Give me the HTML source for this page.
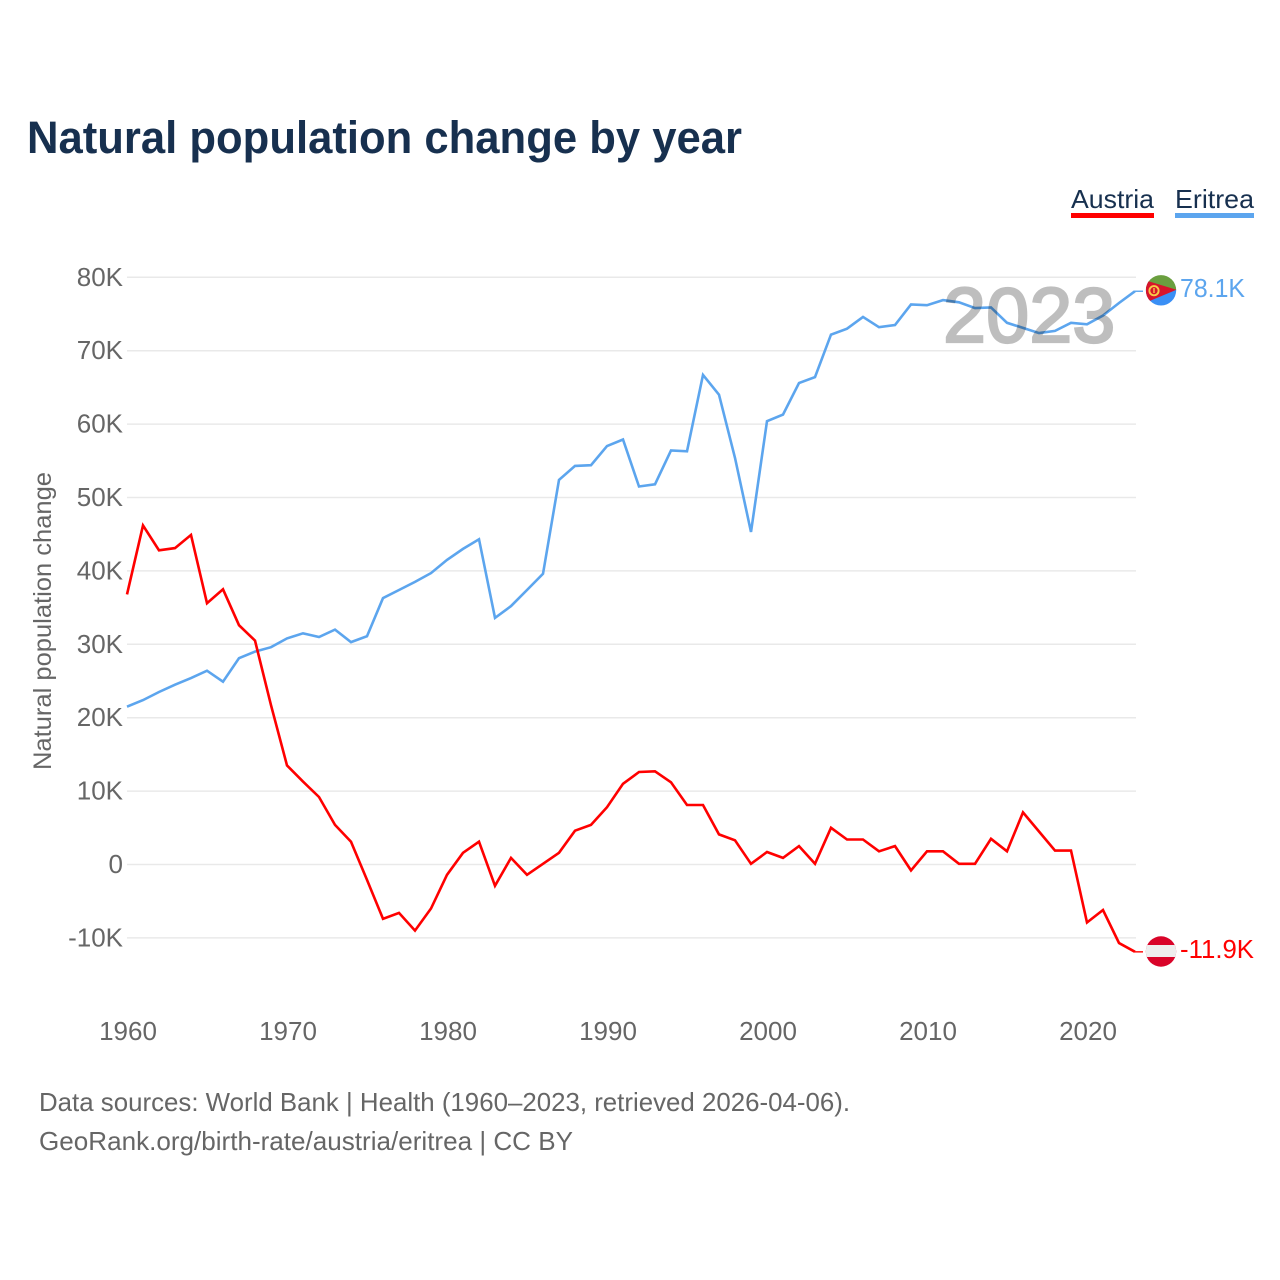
<!DOCTYPE html>
<html lang="en">
<head>
<meta charset="utf-8">
<title>Natural population change by year</title>
<style>
html,body{margin:0;padding:0;background:#fff;}
svg{display:block;}
text{font-family:"Liberation Sans",sans-serif;}
</style>
</head>
<body>
<svg id="chart" xmlns="http://www.w3.org/2000/svg" width="1280" height="1280" viewBox="0 0 1280 1280">
  <rect x="0" y="0" width="1280" height="1280" fill="#fff"/>
  <text x="27" y="153" font-size="45" font-weight="700" fill="#17304f" textLength="715" lengthAdjust="spacingAndGlyphs">Natural population change by year</text>

  <g>
    <text x="1071" y="208" font-size="26" fill="#17304f" textLength="83" lengthAdjust="spacingAndGlyphs">Austria</text>
    <rect x="1071" y="213" width="83" height="5" fill="#ff0000"/>
  </g>
  <g>
    <text x="1175" y="208" font-size="26" fill="#17304f" textLength="79" lengthAdjust="spacingAndGlyphs">Eritrea</text>
    <rect x="1175" y="213" width="79" height="5" fill="#5ca5ee"/>
  </g>

  <g id="grid"></g>
  <g id="ytick-labels"></g>
  <g id="xtick-labels"></g>

  <text transform="translate(51,621) rotate(-90)" text-anchor="middle" font-size="25" fill="#666" textLength="298" lengthAdjust="spacingAndGlyphs">Natural population change</text>

  <g id="series"></g>

  <text x="943" y="342" font-size="77.5" font-weight="400" fill="#000" stroke="#000" stroke-width="2.2" opacity="0.25">2023</text>

  <g id="flag-eritrea">
    <clipPath id="clip-er"><circle cx="1161" cy="290.3" r="15.2"/></clipPath>
    <g clip-path="url(#clip-er)">
      <rect x="1145" y="275" width="32" height="15" fill="#6a9f3f"/>
      <rect x="1145" y="290" width="32" height="16" fill="#3a8ff5"/>
      <polygon points="1146,280.5 1176.5,289.7 1146,302.5" fill="#d7142b"/>
      <circle cx="1154" cy="290.7" r="4.6" fill="none" stroke="#f7c948" stroke-width="1.9"/>
      <rect x="1153.3" y="288" width="1.4" height="5" fill="#f7c948"/>
    </g>
  </g>
  <g id="flag-austria">
    <clipPath id="clip-at"><circle cx="1161" cy="951.5" r="15.2"/></clipPath>
    <g clip-path="url(#clip-at)">
      <rect x="1145" y="936" width="32" height="32" fill="#d90429"/>
      <rect x="1145" y="945" width="32" height="12" fill="#eeeeee"/>
    </g>
  </g>

  <text x="1180" y="297" font-size="26" fill="#5ca5ee" textLength="65" lengthAdjust="spacingAndGlyphs">78.1K</text>
  <text x="1180" y="958" font-size="26" fill="#ff0000" textLength="74" lengthAdjust="spacingAndGlyphs">-11.9K</text>

  <text x="39" y="1111" font-size="26" fill="#666" textLength="811" lengthAdjust="spacingAndGlyphs">Data sources: World Bank | Health (1960–2023, retrieved 2026-04-06).</text>
  <text x="39" y="1150" font-size="26" fill="#666" textLength="534" lengthAdjust="spacingAndGlyphs">GeoRank.org/birth-rate/austria/eritrea | CC BY</text>
</svg>
<script>
const startYear = 1960;
const yTicks = [-10, 0, 10, 20, 30, 40, 50, 60, 70, 80];
const yTickLabels = ["-10K", "0", "10K", "20K", "30K", "40K", "50K", "60K", "70K", "80K"];
const xTicks = [1960, 1970, 1980, 1990, 2000, 2010, 2020];
const austria = [36.8,46.2,42.8,43.1,44.9,35.6,37.5,32.6,30.5,21.7,13.5,11.3,9.2,5.4,3.1,-2.1,-7.4,-6.6,-9.0,-6.0,-1.4,1.6,3.1,-2.9,0.9,-1.4,0.1,1.6,4.6,5.4,7.8,11.0,12.6,12.7,11.2,8.1,8.1,4.1,3.3,0.1,1.7,0.9,2.5,0.1,5.0,3.4,3.4,1.8,2.5,-0.8,1.8,1.8,0.1,0.1,3.5,1.8,7.1,4.5,1.9,1.9,-7.9,-6.2,-10.7,-11.9];
const eritrea = [21.5,22.4,23.5,24.5,25.4,26.4,24.9,28.1,29.0,29.6,30.8,31.5,31.0,32.0,30.3,31.1,36.3,37.4,38.5,39.7,41.5,43.0,44.3,33.6,35.2,37.4,39.6,52.4,54.3,54.4,57.0,57.9,51.5,51.8,56.4,56.3,66.7,64.0,55.4,45.3,60.4,61.3,65.6,66.4,72.2,73.0,74.6,73.2,73.5,76.3,76.2,76.9,76.6,75.8,75.9,73.8,73.1,72.4,72.7,73.8,73.6,74.8,76.5,78.1];

const NS = "http://www.w3.org/2000/svg";
const xScale = function (year) { return 127 + (year - 1960) * 16; };
const yScale = function (v) { return 864.5 - v * 7.34; };

const grid = document.getElementById("grid");
const yLabels = document.getElementById("ytick-labels");
yTicks.forEach(function (t, i) {
  const line = document.createElementNS(NS, "line");
  
  
  line.setAttribute("x1", 127);
  line.setAttribute("x2", 1136);
  line.setAttribute("y1", yScale(t));
  line.setAttribute("y2", yScale(t));
  line.setAttribute("stroke", "#e9e9e9");
  line.setAttribute("stroke-width", 1.5);
  grid.appendChild(line);

  const label = document.createElementNS(NS, "text");
  
  
  label.setAttribute("x", 123);
  label.setAttribute("y", yScale(t) + 8.5);
  label.setAttribute("text-anchor", "end");
  label.setAttribute("font-size", 26);
  label.setAttribute("fill", "#666");
  label.textContent = yTickLabels[i];
  yLabels.appendChild(label);
});

const xLabels = document.getElementById("xtick-labels");
xTicks.forEach(function (t) {
  const label = document.createElementNS(NS, "text");
  
  
  label.setAttribute("x", xScale(t) + 1);
  label.setAttribute("y", 1040);
  label.setAttribute("text-anchor", "middle");
  label.setAttribute("font-size", 26);
  label.setAttribute("fill", "#666");
  label.textContent = String(t);
  xLabels.appendChild(label);
});

function drawSeries(values, color, name) {
  const g = document.getElementById("series");
  const pts = values.map(function (v, i) {
    return xScale(startYear + i).toFixed(1) + "," + yScale(v).toFixed(1);
  }).join(" ");
  const line = document.createElementNS(NS, "polyline");
  
  
  line.setAttribute("points", pts);
  line.setAttribute("fill", "none");
  line.setAttribute("stroke", color);
  line.setAttribute("stroke-width", 2.6);
  line.setAttribute("stroke-linejoin", "miter");
  g.appendChild(line);

  const last = values[values.length - 1];
  const conn = document.createElementNS(NS, "line");
  
  
  conn.setAttribute("x1", xScale(startYear + values.length - 1));
  conn.setAttribute("x2", 1143);
  conn.setAttribute("y1", yScale(last));
  conn.setAttribute("y2", yScale(last));
  conn.setAttribute("stroke", color);
  conn.setAttribute("stroke-width", 1.4);
  g.appendChild(conn);
}
drawSeries(eritrea, "#5ca5ee", "eritrea-line");
drawSeries(austria, "#ff0000", "austria-line");
</script>
</body>
</html>
